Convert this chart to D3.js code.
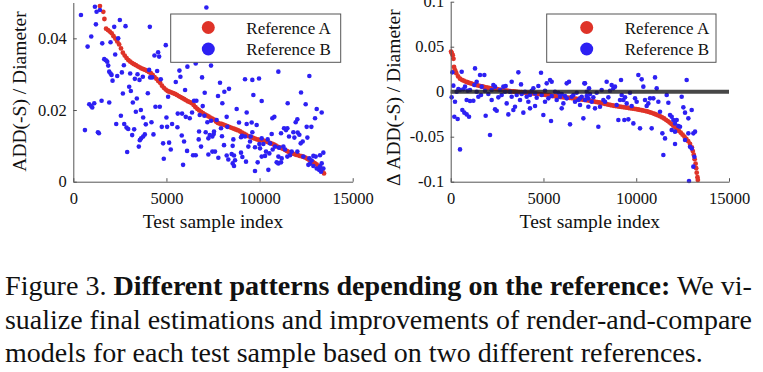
<!DOCTYPE html>
<html>
<head>
<meta charset="utf-8">
<script src="https://cdn.jsdelivr.net/npm/d3@7.9.0/dist/d3.min.js"></script>
<style>
  html, body { margin: 0; padding: 0; background: #fff; }
  svg { display: block; font-family: "Liberation Serif", "Times New Roman", serif; }
</style>
</head>
<body>
<svg id="fig" width="763" height="372"></svg>
<script>
// ---- data ----
const xTicks = [0, 5000, 10000, 15000];
const leftYTicks = [0, 0.02, 0.04];
const rightYTicks = [-0.1, -0.05, 0, 0.05, 0.1];
const seriesNames = ["Reference A", "Reference B"];

// left panel: ADD(-S) / Diameter, sorted by reference A
const leftRedX = [1430,1610,1670,1760,1860,1960,2060,2160,2260,2360,2460,2560,2660,2760,2860,2960,3060,3160,3260,3360,3460,3560,3660,3760,3860,3960,4060,4160,4260,4360,4460,4560,4660,4760,4860,4960,5060,5160,5260,5360,5460,5560,5660,5760,5860,5960,6060,6160,6260,6360,6460,6560,6660,6760,6860,6960,7060,7160,7260,7360,7460,7560,7660,7760,7860,7960,8060,8160,8260,8360,8460,8560,8660,8760,8860,8960,9060,9160,9260,9360,9460,9560,9660,9760,9860,9960,10060,10160,10260,10360,10460,10560,10660,10760,10860,10960,11060,11160,11260,11360,11460,11560,11660,11760,11860,11960,12060,12160,12260,12360,12460,12560,12660,12760,12860,12960,13060,13160,13260,13360,13460];
const leftRedY = [.0490,.0474,.0454,.0427,.0423,.0419,.0414,.0406,.0399,.0391,.0383,.0372,.0360,.0352,.0345,.0339,.0335,.0331,.0328,.0325,.0322,.0319,.0316,.0314,.0312,.0309,.0306,.0303,.0298,.0292,.0287,.0281,.0276,.0268,.0262,.0257,.0253,.0251,.0249,.0247,.0245,.0242,.0239,.0236,.0233,.0230,.0227,.0224,.0222,.0219,.0214,.0208,.0203,.0199,.0195,.0191,.0188,.0185,.0182,.0179,.0176,.0173,.0168,.0164,.0162,.0161,.0159,.0157,.0155,.0153,.0151,.0149,.0147,.0145,.0143,.0140,.0137,.0134,.0131,.0128,.0126,.0124,.0122,.0120,.0118,.0117,.0116,.0115,.0114,.0112,.0110,.0108,.0106,.0104,.0101,.0098,.0096,.0094,.0092,.0089,.0086,.0083,.0081,.0079,.0077,.0075,.0074,.0072,.0071,.0069,.0067,.0064,.0061,.0058,.0055,.0052,.0048,.0044,.0039,.0031,.0023];
const leftBlue = [
  [411,.0465],[1161,.0488],[1250,.0474],[1429,.0479],[1214,.0439],[964,.0405],[768,.0377],[1554,.0386],[2000,.0389],[2197,.0432],
  [2500,.0451],[2804,.0434],[2411,.0400],[2250,.0355],[1661,.0342],[1750,.0339],[1822,.0335],[1875,.0324],[1929,.0307],[2000,.0302],
  [2054,.0298],[2107,.0282],[2358,.0295],[2608,.0305],[2715,.0325],[3054,.0302],[3304,.0287],[3554,.0284],[3447,.0300],[3733,.0293],
  [4108,.0432],[4126,.0291],[4233,.0291],[4072,.0312],[4501,.0309],[4697,.0286],[4358,.0352],[4554,.0361],[4608,.0349],[4965,.0381],
  [5697,.0310],[5751,.0293],[5501,.0278],[6126,.0321],[6572,.0330],[6912,.0291],[7055,.0248],[7144,.0486],[7394,.0324],[6001,.0256],
  [6483,.0226],[5090,.0237],[3000,.0265],[3090,.0253],[2661,.0246],[4001,.0247],[3411,.0232],[3197,.0221],[3358,.0195],[3626,.0200],
  [3751,.0179],[3893,.0160],[4197,.0166],[4411,.0209],[4644,.0209],[3840,.0132],[3751,.0126],[3643,.0121],[3572,.0116],[4304,.0132],
  [4751,.0153],[5037,.0153],[5001,.0179],[5304,.0161],[5590,.0152],[5608,.0190],[5840,.0190],[6037,.0181],[6251,.0177],[6376,.0193],
  [6608,.0226],[6948,.0211],[6787,.0186],[7037,.0184],[7198,.0166],[7394,.0170],[6751,.0140],[7108,.0138],[7323,.0130],[7465,.0126],
  [7537,.0133],[6733,.0118],[7251,.0121],[5822,.0129],[5947,.0112],[4822,.0107],[5144,.0109],[5233,.0090],[6108,.0086],[6858,.0098],
  [6430,.0074],[6572,.0074],[7251,.0076],[7465,.0084],[4858,.0064],[5894,.0047],[2893,.0083],[3518,.0098],[3161,.0130],[3268,.0146],
  [2304,.0161],[2733,.0161],[2858,.0151],[2947,.0147],[2554,.0184],[1929,.0221],[1518,.0226],[857,.0216],[964,.0211],[1018,.0207],
  [1125,.0219],[625,.0144],[1322,.0138],[1375,.0135],
  [11009,.0307],[12673,.0295],[9219,.0286],[9612,.0284],[9970,.0288],[7876,.0276],[7769,.0239],[8109,.0251],[8359,.0259],[8001,.0219],
  [9666,.0242],[12226,.0249],[10114,.0225],[8771,.0203],[9308,.0193],[8234,.0181],[7697,.0172],[10686,.0177],[10794,.0181],[11510,.0219],
  [12476,.0216],[13067,.0203],[13336,.0193],[12978,.0177],[12029,.0174],[11939,.0166],[8896,.0165],[9308,.0161],[9576,.0165],[9845,.0158],
  [8270,.0153],[7554,.0140],[7930,.0149],[7983,.0127],[9057,.0128],[9004,.0124],[9219,.0126],[8592,.0118],[9612,.0138],[9523,.0126],
  [9487,.0112],[10114,.0121],[10651,.0133],[11152,.0135],[11313,.0149],[11420,.0144],[11492,.0149],[11581,.0126],[11814,.0138],[12047,.0137],
  [12136,.0131],[11868,.0123],[12530,.0153],[12781,.0153],[12566,.0123],[12315,.0112],[12208,.0107],[9988,.0105],[10203,.0105],[10561,.0107],
  [10830,.0098],[11044,.0095],[10436,.0118],[8091,.0102],[8556,.0100],[9398,.0098],[9756,.0096],[10024,.0093],[10346,.0084],[10525,.0079],
  [10704,.0090],[11277,.0098],[11367,.0090],[11725,.0084],[11635,.0074],[12029,.0084],[12351,.0070],[7608,.0084],[7787,.0067],[8234,.0073],
  [8323,.0062],[8503,.0077],[8628,.0073],[8682,.0060],[8556,.0051],[8628,.0044],[9004,.0081],[9075,.0069],[9272,.0056],[9899,.0054],
  [10114,.0070],[10293,.0072],[11009,.0070],[11188,.0065],[10919,.0054],[11009,.0051],[11152,.0054],[10472,.0033],[9755,.0030],[11492,.0070],
  [12673,.0065],[12798,.0059],[12888,.0072],[13013,.0070],[13246,.0074],[13425,.0081],[12620,.0047],[12709,.0050],[12888,.0044],[13067,.0037],
  [13193,.0033],[13300,.0028],[13246,.0042],[13336,.0051],[13425,.0037]
];

// right panel: change of ADD(-S) / Diameter
const rightRedX = [20,60,110,150,180,220,260,300,400,500,600,700,800,900,1000,1100,1200,1300,1400,1500,1600,1700,1800,1900,2000,2100,2200,2300,2400,2500,2600,2700,2800,2900,3000,3100,3200,3300,3400,3500,3600,3700,3800,3900,4000,4100,4200,4300,4400,4500,4600,4700,4800,4900,5000,5100,5200,5300,5400,5500,5600,5700,5800,5900,6000,6100,6200,6300,6400,6500,6600,6700,6800,6900,7000,7100,7200,7300,7400,7500,7600,7700,7800,7900,8000,8100,8200,8300,8400,8500,8600,8700,8800,8900,9000,9100,9200,9300,9400,9500,9600,9700,9800,9900,10000,10100,10200,10300,10400,10500,10600,10700,10800,10900,11000,11100,11200,11300,11400,11500,11600,11700,11800,11900,12000,12100,12200,12300,12400,12500,12600,12700,12800,12900,13000,13050,13100,13150,13200,13230,13260,13300,13320];
const rightRedY = [.0446,.0428,.0405,.0365,.0275,.0245,.0225,.0205,.0170,.0145,.0132,.0122,.0113,.0105,.0098,.0091,.0085,.0079,.0073,.0068,.0063,.0058,.0053,.0048,.0044,.0040,.0036,.0033,.0030,.0027,.0024,.0021,.0018,.0015,.0012,.0009,.0006,.0004,.0002,.0000,-.0002,-.0004,-.0006,-.0008,-.0010,-.0012,-.0014,-.0016,-.0018,-.0020,-.0022,-.0024,-.0027,-.0030,-.0033,-.0036,-.0039,-.0042,-.0045,-.0048,-.0050,-.0053,-.0056,-.0059,-.0061,-.0063,-.0065,-.0067,-.0069,-.0071,-.0073,-.0076,-.0079,-.0082,-.0085,-.0088,-.0091,-.0094,-.0097,-.0100,-.0104,-.0108,-.0112,-.0116,-.0120,-.0125,-.0129,-.0134,-.0139,-.0144,-.0148,-.0152,-.0156,-.0160,-.0163,-.0166,-.0169,-.0172,-.0175,-.0178,-.0181,-.0184,-.0187,-.0190,-.0194,-.0198,-.0202,-.0206,-.0210,-.0215,-.0220,-.0226,-.0233,-.0240,-.0248,-.0256,-.0265,-.0275,-.0286,-.0298,-.0312,-.0326,-.0342,-.0360,-.0378,-.0396,-.0416,-.0436,-.0456,-.0478,-.0500,-.0525,-.0550,-.0580,-.0620,-.0660,-.0700,-.0750,-.0800,-.0850,-.0900,-.0950,-.0980];
const rightBlue = [
  [88,.0215],[142,.0067],[52,-.0063],[232,-.0111],[196,-.0278],[376,-.0304],[502,-.0641],[412,.0030],[592,.0222],[771,.0056],
  [627,-.0204],[735,-.0233],[861,-.0252],[987,-.0278],[861,-.0093],[1041,-.0104],[1221,-.0100],[1311,.0259],[1400,.0111],[1490,-.0056],
  [1580,.0185],[1670,.0056],[1814,.0185],[1885,-.0267],[2119,-.0481],[2029,-.0026],[2209,-.0093],[2299,.0074],[2389,-.0196],[2479,-.0211],
  [2568,-.0063],[2658,.0019],[2838,.0056],[2963,.0063],[3017,-.0130],[3107,-.0252],[3287,-.0056],[3377,-.0204],[3467,-.0167],[3646,.0215],
  [3790,.0081],[3736,-.0093],[3916,-.0233],[4006,.0000],[4186,-.0111],[4275,-.0185],[4455,.0037],[4545,-.0159],[4725,.0063],[4868,.0211],
  [4904,-.0037],[4994,-.0259],[5084,-.0111],[5174,.0093],[5354,.0130],[5443,.0111],[5408,-.0326],[5623,.0000],[5713,-.0093],[5893,-.0056],
  [5983,-.0185],[6073,-.0130],[6253,.0093],[6378,.0111],[6432,-.0363],[6522,-.0056],[6701,-.0111],[6881,-.0093],[6971,-.0148],[7151,-.0296],
  [7204,.0093],[7330,.0000],[7420,-.0167],[7456,.0037],[3287,.0111],[2928,.0000],[3556,-.0037],[4096,-.0056],[4365,.0011],[4635,-.0067],
  [5264,-.0074],[5803,-.0011],[6163,-.0048],[6791,-.0011],[7061,-.0056],[1041,.0019],[1850,.0011],[2389,.0056],[1275,.0074],
  [322,.0000],[502,.0019],[681,.0026],[915,.0011],[1400,.0000],[1634,-.0037],[2209,.0019],[2748,-.0037],[3197,.0000],[3826,-.0026],
  [4275,-.0037],[4545,-.0019],[5084,.0011],[5443,-.0048],[5983,-.0026],[6253,-.0074],[6611,-.0037],[6971,-.0074],[7241,-.0093],
  [7239,.0093],[7419,-.0074],[7598,-.0111],[7868,-.0011],[7958,-.0389],[8048,-.0167],[8227,-.0093],[8407,.0111],[8587,.0011],[8676,.0074],
  [8766,.0037],[8856,.0056],[8946,-.0148],[9036,-.0315],[9180,.0130],[9216,-.0037],[9306,-.0093],[9360,-.0315],[9485,-.0130],[9575,-.0307],
  [9665,-.0011],[9755,-.0159],[9845,-.0352],[9935,-.0074],[10114,.0185],[10204,-.0407],[10294,.0137],[10384,.0056],[10473,-.0093],[10563,-.0159],
  [10743,-.0074],[10833,-.0407],[11013,.0159],[11103,.0037],[11192,-.0111],[11282,-.0222],[11408,-.0463],[11462,-.0704],[11552,-.0519],[11642,-.0037],
  [11732,-.0122],[11821,-.0259],[11911,-.0278],[12001,-.0315],[12091,-.0352],[12181,-.0315],[12091,-.0581],[12450,-.0056],[12540,-.0174],[12630,-.0233],
  [12719,.0130],[12809,-.0463],[12989,-.0204],[13079,-.0463],[13169,-.0444],[12899,-.0611],[12989,-.0630],[13133,-.0722],[13079,-.0833],[12845,-.0993],
  [12630,-.0537],[12361,-.0389],[12809,-.0296],[11911,-.0426],[12091,-.0444],[12271,-.0381],
  [7329,-.0048],[7509,-.0026],[7688,-.0063],[7778,-.0185],[8138,.0019],[8317,-.0111],[8497,-.0063],[9126,-.0093],[9396,-.0063],[10024,-.0111],
  [10653,-.0130],[10923,-.0074]
];

const captionLines = [
  [["Figure 3. ", "normal"], ["Different patterns depending on the reference:", "bold"], [" We vi-", "normal"]],
  [["sualize final estimations and improvements of render-and-compare", "normal"]],
  [["models for each test sample based on two different references.", "normal"]]
];

// ---- drawing ----
const red = "#df3328", blue = "#2d20f3";
const svg = d3.select("#fig");
svg.append("rect").attr("width", 763).attr("height", 372).attr("fill", "#fff");

function panel(opt) {
  const x = d3.scaleLinear().domain([0, 15000]).range([opt.x0, opt.x1]);
  const y = d3.scaleLinear().domain(opt.yDomain).range([181.7, opt.yTop]);
  const g = svg.append("g");

  // red (reference A) first, blue on top
  const red_pts = opt.redX.map((v, i) => [v, opt.redY[i]]);
  g.append("g").selectAll("circle").data(red_pts).join("circle")
    .attr("cx", d => x(d[0])).attr("cy", d => y(d[1])).attr("r", 2.4).attr("fill", red);
  g.append("g").selectAll("circle").data(opt.blue).join("circle")
    .attr("cx", d => x(d[0])).attr("cy", d => y(d[1])).attr("r", 2.3).attr("fill", blue);

  if (opt.zeroLine) {
    g.append("line")
      .attr("x1", x(0)).attr("x2", x(15000))
      .attr("y1", y(0)).attr("y2", y(0))
      .attr("stroke", "#1e1e1e").attr("stroke-opacity", 0.82).attr("stroke-width", 4);
  }

  const xAxis = g.append("g").attr("transform", `translate(0,${y.range()[0]})`)
    .call(d3.axisBottom(x).tickValues(xTicks).tickFormat(d3.format("d"))
      .tickSizeInner(-3.5).tickSizeOuter(0).tickPadding(11));
  const yAxis = g.append("g").attr("transform", `translate(${opt.x0},0)`)
    .call(d3.axisLeft(y).tickValues(opt.yTicks).tickFormat(d => String(+d.toFixed(2)))
      .tickSizeInner(-3.5).tickSizeOuter(0).tickPadding(6.5));
  [xAxis, yAxis].forEach(a => {
    a.select(".domain").attr("stroke", "#555");
    a.selectAll(".tick line").attr("stroke", "#555");
    a.selectAll("text").attr("font-family", "Liberation Serif, serif")
      .attr("font-size", 16.5).attr("fill", "#111");
  });

  // axis titles
  g.append("text").attr("x", (opt.x0 + opt.x1) / 2).attr("y", 228)
    .attr("text-anchor", "middle").attr("font-size", 19.5).attr("fill", "#111")
    .text("Test sample index");
  g.append("text")
    .attr("transform", `translate(${opt.titleX},${opt.titleY}) rotate(-90)`)
    .attr("text-anchor", opt.titleAnchor).attr("font-size", 19.5).attr("fill", "#111")
    .text(opt.yTitle);

  // legend
  const lg = g.append("g").attr("transform", `translate(${opt.legX},14)`);
  lg.append("rect").attr("width", opt.legW).attr("height", 48.3)
    .attr("fill", "#fff").attr("stroke", "#555").attr("stroke-width", 1);
  [red, blue].forEach((c, i) => {
    lg.append("circle").attr("cx", opt.legMark).attr("cy", 13.5 + i * 21.5).attr("r", 6.5).attr("fill", c);
    lg.append("text").attr("x", opt.legMark + 38).attr("y", 19.5 + i * 21)
      .attr("font-size", 17).attr("fill", "#111").text(seriesNames[i]);
  });
}

panel({
  x0: 73.3, x1: 352.7, yDomain: [0, 0.05], yTop: 2.5, yTicks: leftYTicks,
  redX: leftRedX, redY: leftRedY, blue: leftBlue,
  yTitle: "ADD(-S) / Diameter", titleX: 26, titleY: 91.5, titleAnchor: "middle",
  legX: 170.7, legW: 170, legMark: 37.6
});
panel({
  x0: 450.7, x1: 729, yDomain: [-0.1, 0.1], yTop: 1.7, yTicks: rightYTicks,
  redX: rightRedX, redY: rightRedY, blue: rightBlue, zeroLine: true,
  yTitle: "\u0394 ADD(-S) / Diameter", titleX: 400, titleY: 186, titleAnchor: "start",
  legX: 546.7, legW: 169.3, legMark: 40
});

// caption
const capY = [295, 329, 362];
captionLines.forEach((parts, i) => {
  const t = svg.append("text").attr("x", 5).attr("y", capY[i])
    .attr("font-size", 28).attr("fill", "#111");
  parts.forEach(p => t.append("tspan").attr("font-weight", p[1]).text(p[0]));
  if (i < 2) t.attr("textLength", 747).attr("lengthAdjust", "spacingAndGlyphs");
});
</script>
</body>
</html>
